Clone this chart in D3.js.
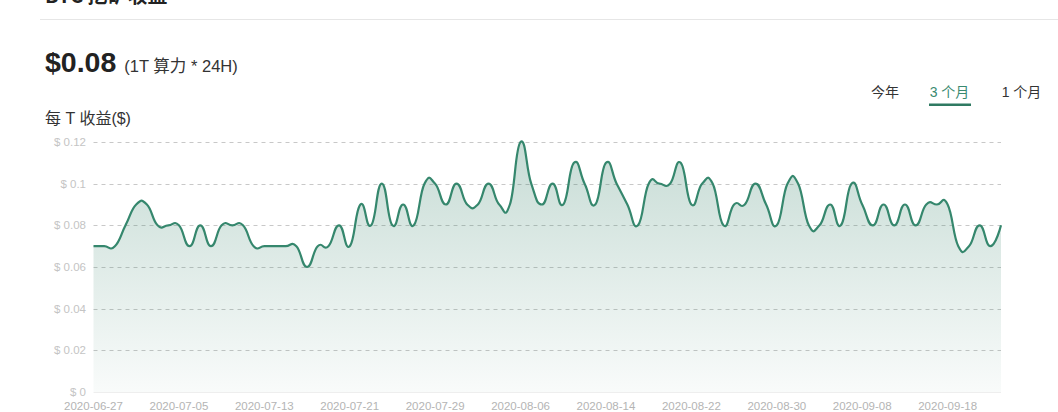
<!DOCTYPE html>
<html>
<head>
<meta charset="utf-8">
<script src="https://cdn.jsdelivr.net/npm/d3@7"></script>
<style>
  html, body { margin: 0; padding: 0; background: #fff; }
  body { width: 1058px; height: 412px; overflow: hidden; font-family: "Noto Sans CJK SC", "Noto Sans", sans-serif; }
</style>
</head>
<body>
<svg id="chart" width="1058" height="412"></svg>
<script>
// ---- data ----
const dates = [
  "2020-06-27","2020-06-28","2020-06-29","2020-06-30",
  "2020-07-01","2020-07-02","2020-07-03","2020-07-04","2020-07-05","2020-07-06","2020-07-07","2020-07-08",
  "2020-07-09","2020-07-10","2020-07-11","2020-07-12","2020-07-13","2020-07-14","2020-07-15","2020-07-16",
  "2020-07-17","2020-07-18","2020-07-19","2020-07-20","2020-07-21","2020-07-22","2020-07-23","2020-07-24",
  "2020-07-25","2020-07-26","2020-07-27","2020-07-28","2020-07-29","2020-07-30","2020-07-31",
  "2020-08-01","2020-08-02","2020-08-03","2020-08-04","2020-08-05","2020-08-06","2020-08-07","2020-08-08",
  "2020-08-09","2020-08-10","2020-08-11","2020-08-12","2020-08-13","2020-08-14","2020-08-15","2020-08-16",
  "2020-08-17","2020-08-18","2020-08-19","2020-08-20","2020-08-21","2020-08-22","2020-08-23","2020-08-24",
  "2020-08-25","2020-08-26","2020-08-27","2020-08-28","2020-08-29","2020-08-30",
  "2020-08-31","2020-09-01","2020-09-02","2020-09-03","2020-09-04","2020-09-06","2020-09-07","2020-09-08",
  "2020-09-09","2020-09-10","2020-09-11","2020-09-14","2020-09-15","2020-09-16","2020-09-17","2020-09-18",
  "2020-09-19","2020-09-20","2020-09-21","2020-09-22","2020-09-23"
];
const values = [
  0.07,0.07,0.07,0.08,0.09,0.09,0.08,0.08,0.08,0.07,
  0.08,0.07,0.08,0.08,0.08,0.07,0.07,0.07,0.07,0.07,
  0.06,0.07,0.07,0.08,0.07,0.09,0.08,0.10,0.08,0.09,
  0.08,0.10,0.10,0.09,0.10,0.09,0.09,0.10,0.09,0.09,
  0.12,0.10,0.09,0.10,0.09,0.11,0.10,0.09,0.11,0.10,
  0.09,0.08,0.10,0.10,0.10,0.11,0.09,0.10,0.10,0.08,
  0.09,0.09,0.10,0.09,0.08,0.10,0.10,0.08,0.08,0.09,
  0.08,0.10,0.09,0.08,0.09,0.08,0.09,0.08,0.09,0.09,
  0.09,0.07,0.07,0.08,0.07,0.08
];
const yTicks = [0, 0.02, 0.04, 0.06, 0.08, 0.1, 0.12];
const yTickLabels = ["$ 0", "$ 0.02", "$ 0.04", "$ 0.06", "$ 0.08", "$ 0.1", "$ 0.12"];
const xTickLabels = ["2020-06-27","2020-07-05","2020-07-13","2020-07-21","2020-07-29","2020-08-06",
                     "2020-08-14","2020-08-22","2020-08-30","2020-09-08","2020-09-18"];
const tabs = ["今年", "3 个月", "1 个月"];

// ---- drawing ----
(function () {
const svg = d3.select("#chart");
const font = '"Noto Sans CJK SC", "Noto Sans", sans-serif';
const latin = '"Liberation Sans", "Noto Sans CJK SC", sans-serif';

// header
svg.append("text").attr("x", 45).attr("y", 3).attr("font-family", font)
  .attr("font-size", 20).attr("font-weight", 700).attr("fill", "#222").text("BTC 挖矿收益");
svg.append("line").attr("x1", 40).attr("x2", 1058).attr("y1", 19.5).attr("y2", 19.5)
  .attr("stroke", "#e6e6e6").attr("stroke-width", 1);

const big = svg.append("text").attr("x", 45).attr("y", 72).attr("fill", "#222");
big.append("tspan").attr("font-size", 28.5).attr("font-weight", 700).attr("font-family", latin).text("$0.08");
big.append("tspan").attr("dx", 8).attr("font-size", 16.5).attr("font-family", latin).attr("fill", "#333").text("(1T 算力 * 24H)");

svg.append("text").attr("x", 45).attr("y", 124).attr("font-family", latin)
  .attr("font-size", 16).attr("fill", "#333").text("每 T 收益($)");

// tabs
const tabX = [885, 949.5, 1021.5];
tabs.forEach((t, i) => {
  svg.append("text").attr("x", tabX[i]).attr("y", 97).attr("text-anchor", "middle")
    .attr("font-family", latin).attr("font-size", 14)
    .attr("fill", i === 1 ? "#3a8a70" : "#333").text(t);
});
svg.append("rect").attr("x", 929).attr("y", 103.5).attr("width", 42).attr("height", 2.5)
  .attr("fill", "#2f7a62");

// scales
const pL = 93.5, pR = 1001, pT = 142, pB = 392;
const x = d3.scalePoint().domain(dates).range([pL, pR]);
const y = d3.scaleLinear().domain([0, 0.12]).range([pB, pT]);

// gradient
const defs = svg.append("defs");
const grad = defs.append("linearGradient").attr("id", "areaGrad")
  .attr("x1", 0).attr("y1", 0).attr("x2", 0).attr("y2", 1);
grad.append("stop").attr("offset", "0%").attr("stop-color", "#2f7d64").attr("stop-opacity", 0.27);
grad.append("stop").attr("offset", "100%").attr("stop-color", "#2f7d64").attr("stop-opacity", 0.03);

// grid lines
const gy = svg.append("g");
yTicks.forEach((v, i) => {
  if (v > 0) {
    gy.append("line").attr("x1", pL).attr("x2", pR).attr("y1", Math.round(y(v)) + 0.5).attr("y2", Math.round(y(v)) + 0.5)
      .attr("stroke", "#c8c8c8").attr("stroke-width", 1).attr("stroke-dasharray", "4,4");
  }
  gy.append("text").attr("x", 86).attr("y", y(v) + 4).attr("text-anchor", "end")
    .attr("font-family", latin).attr("font-size", 11.5).attr("fill", "#c4c4c4").text(yTickLabels[i]);
});

const pts = dates.map((d, i) => [d, values[i]]);
const curve = d3.curveCardinal.tension(-0.5);
const area = d3.area().x(d => x(d[0])).y0(pB).y1(d => y(d[1])).curve(curve);
const line = d3.line().x(d => x(d[0])).y(d => y(d[1])).curve(curve);

svg.append("path").datum(pts).attr("d", area).attr("fill", "url(#areaGrad)");

// x axis baseline
svg.append("line").attr("x1", pL).attr("x2", pR).attr("y1", pB + 0.5).attr("y2", pB + 0.5)
  .attr("stroke", "#eeeeee").attr("stroke-width", 1);

svg.append("path").datum(pts).attr("d", line).attr("fill", "none")
  .attr("stroke", "#35876d").attr("stroke-width", 2.2).attr("stroke-linejoin", "round");

// x labels
xTickLabels.forEach(lbl => {
  svg.append("text").attr("x", x(lbl)).attr("y", 410).attr("text-anchor", "middle")
    .attr("font-family", latin).attr("font-size", 11.5).attr("fill", "#b4b4b4").text(lbl);
});
})();
</script>
</body>
</html>
